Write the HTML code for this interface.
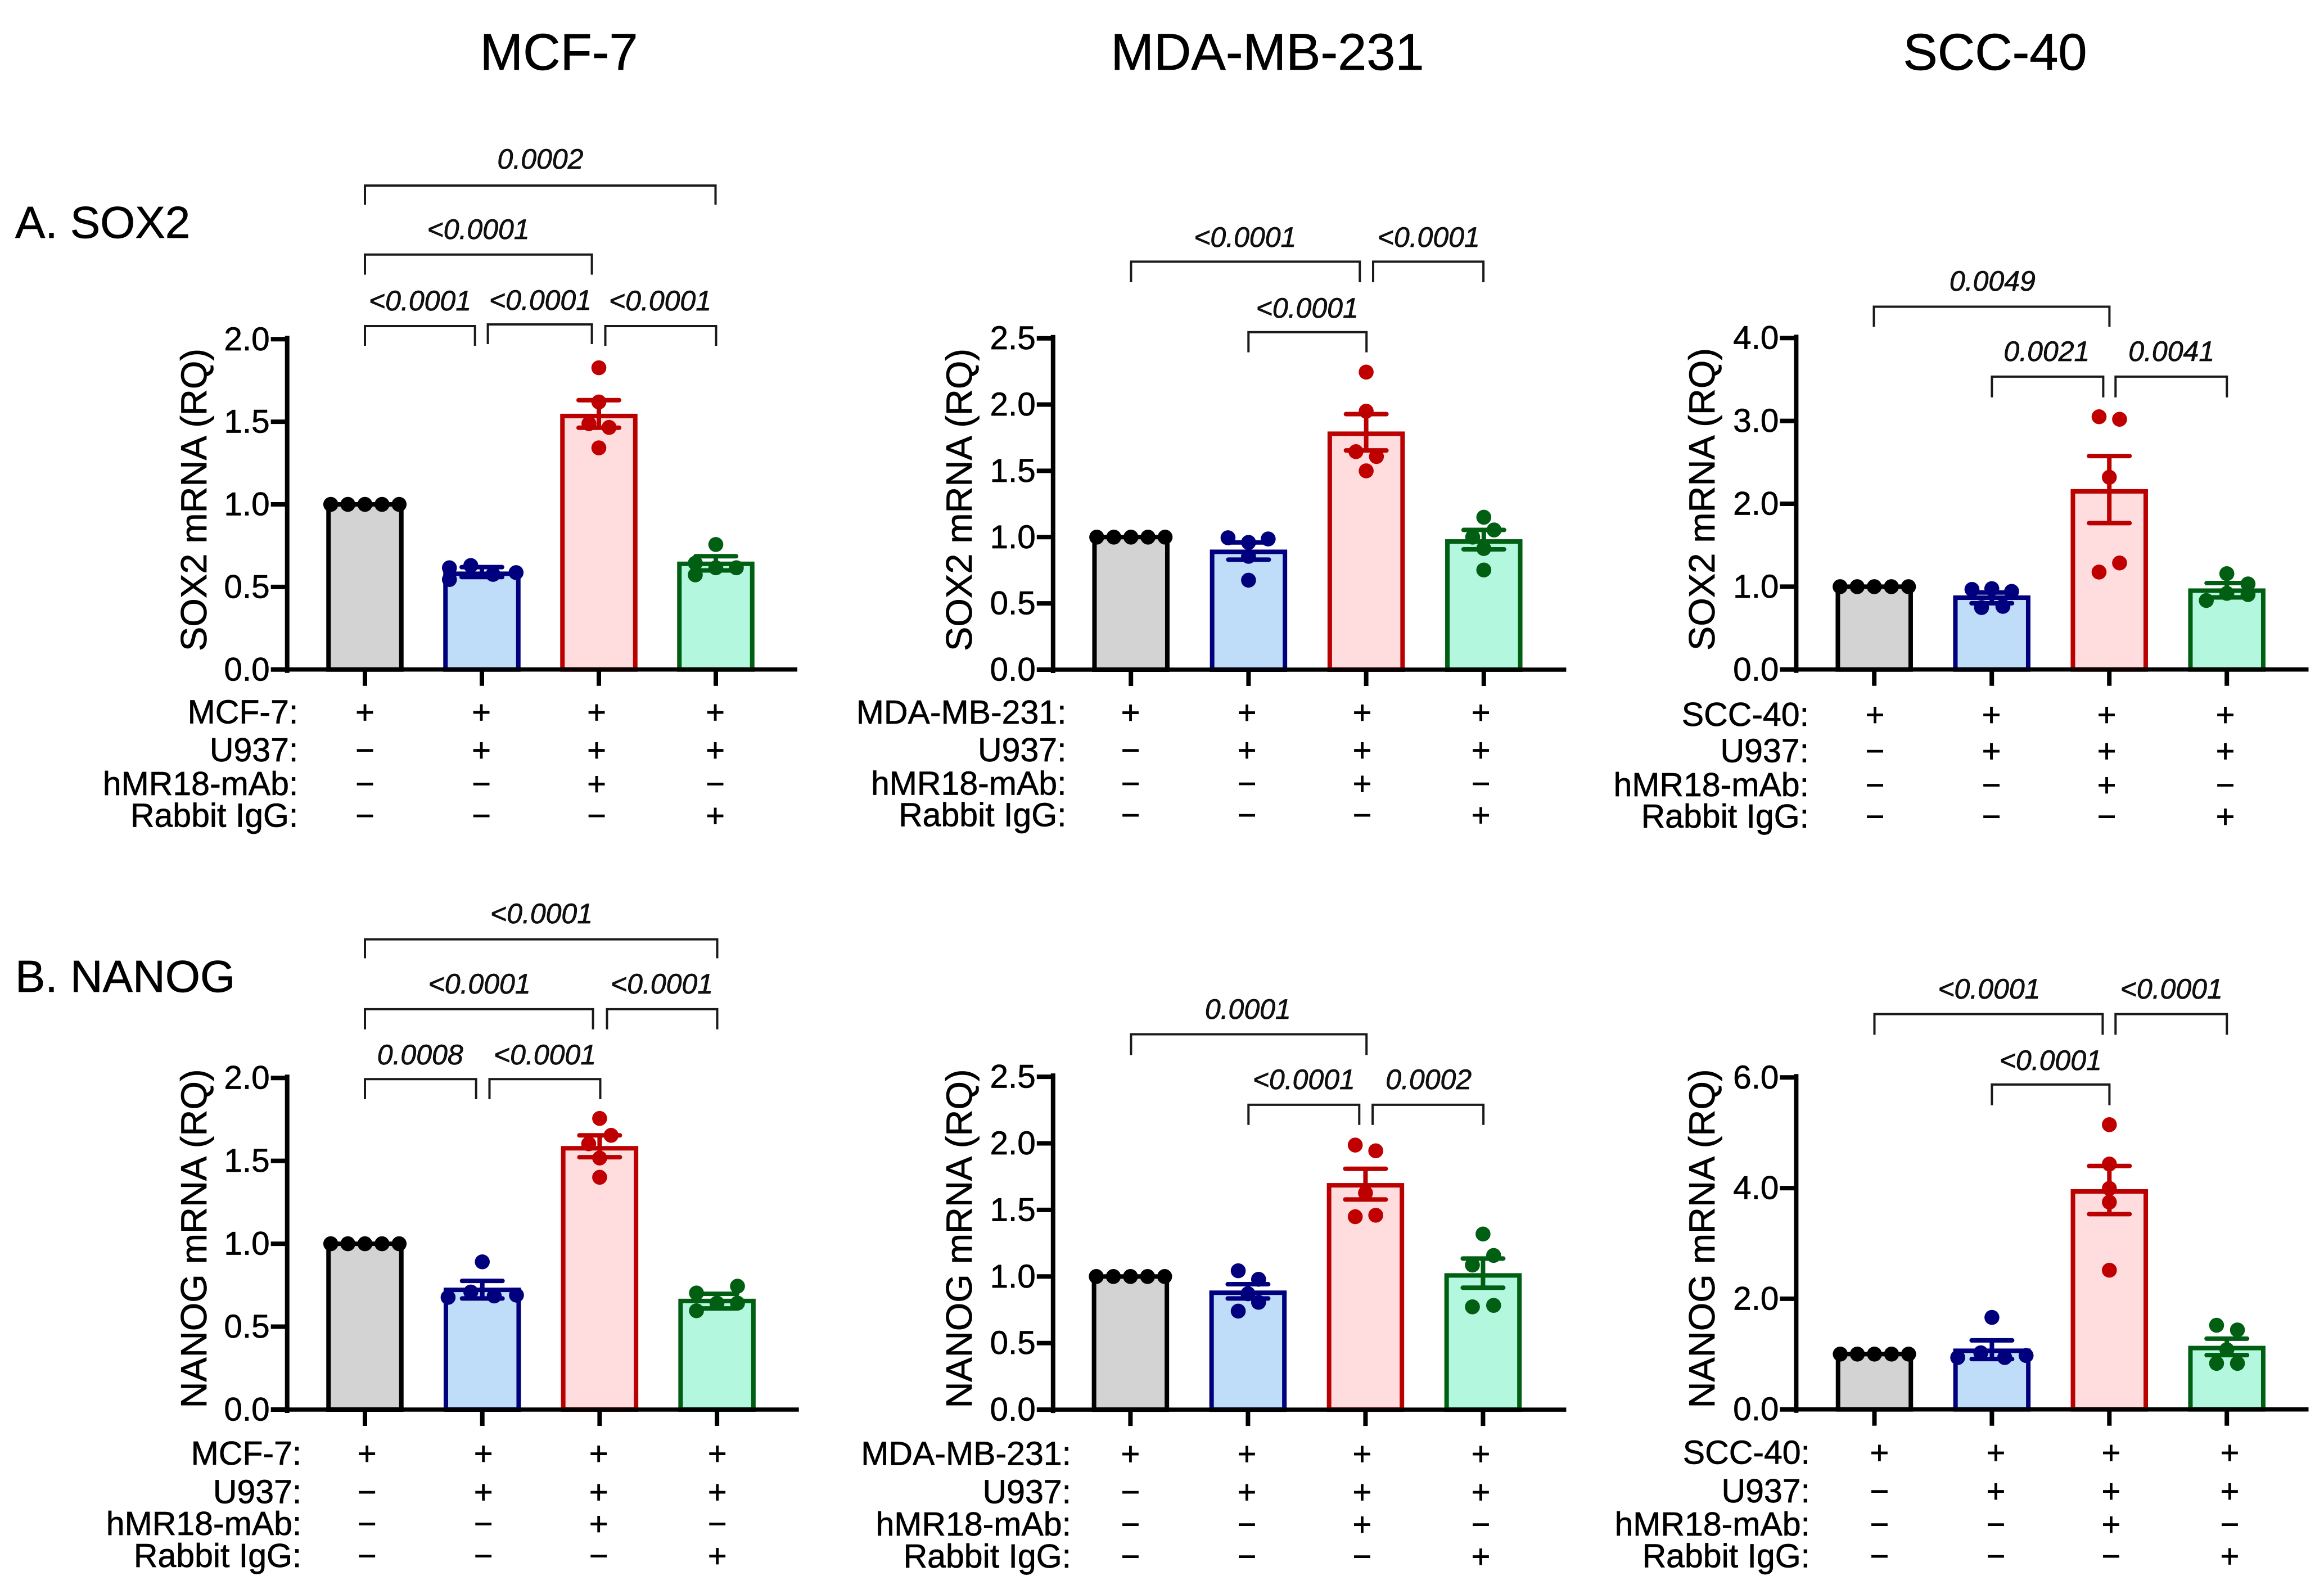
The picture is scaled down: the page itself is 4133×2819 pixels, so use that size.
<!DOCTYPE html>
<html lang="en">
<head>
<meta charset="utf-8">
<title>SOX2 and NANOG mRNA expression</title>
<style>
html,body{margin:0;padding:0;background:#fff;}
svg{display:block;font-family:"Liberation Sans",sans-serif;fill:#000;}
svg text{stroke:#000;stroke-width:.7px;}
.col-title{font-size:92px;text-anchor:middle;}
.panel-label{font-size:80px;}
.y-title{font-size:65px;text-anchor:middle;}
.pv{font-size:50px;font-style:italic;text-anchor:middle;fill:#111;}
.bk{fill:none;stroke:#1a1a1a;stroke-width:4;}
</style>
</head>
<body>
<svg id="figure" xmlns="http://www.w3.org/2000/svg" width="4133" height="2819" viewBox="0 0 4133 2819">
<rect x="0" y="0" width="4133" height="2819" fill="#fff"/>

<text class="col-title" x="994" y="124">MCF-7</text>
<text class="col-title" x="2254" y="124">MDA-MB-231</text>
<text class="col-title" x="3548" y="124">SCC-40</text>
<text class="panel-label" x="27" y="423">A. SOX2</text>
<text class="panel-label" x="27" y="1764">B. NANOG</text>

<text class="y-title" x="367" y="889" transform="rotate(-90 367 889)">SOX2 mRNA (RQ)</text>
<text class="y-title" x="1728" y="889" transform="rotate(-90 1728 889)">SOX2 mRNA (RQ)</text>
<text class="y-title" x="3049" y="888" transform="rotate(-90 3049 888)">SOX2 mRNA (RQ)</text>
<text class="y-title" x="367" y="2203" transform="rotate(-90 367 2203)">NANOG mRNA (RQ)</text>
<text class="y-title" x="1728" y="2203" transform="rotate(-90 1728 2203)">NANOG mRNA (RQ)</text>
<text class="y-title" x="3049" y="2203" transform="rotate(-90 3049 2203)">NANOG mRNA (RQ)</text>

<g>
<path class="bk" d="M649 364V330H1272.5V364"/><text class="pv" x="961" y="300">0.0002</text>
<path class="bk" d="M649 488.5V452.7H1052.6V488.5"/><text class="pv" x="850.6" y="425">&lt;0.0001</text>
<path class="bk" d="M649 615V580H844.7V615"/><text class="pv" x="747" y="552">&lt;0.0001</text>
<path class="bk" d="M867.6 612V577H1052.6V612"/><text class="pv" x="961" y="551">&lt;0.0001</text>
<path class="bk" d="M1076.5 615V580H1273.5V615"/><text class="pv" x="1174" y="552">&lt;0.0001</text>
</g>
<g>
<path class="bk" d="M2011.4 502V465.4H2418.3V502"/><text class="pv" x="2214.3" y="439">&lt;0.0001</text>
<path class="bk" d="M2442 502V465.4H2638.1V502"/><text class="pv" x="2540.7" y="439">&lt;0.0001</text>
<path class="bk" d="M2220.3 626.6V590.8H2430.2V626.6"/><text class="pv" x="2324.7" y="565">&lt;0.0001</text>
</g>
<g>
<path class="bk" d="M3332.5 581.3V545.5H3751.4V581.3"/><text class="pv" x="3543.4" y="517">0.0049</text>
<path class="bk" d="M3542.4 706.7V669.9H3740.4V706.7"/><text class="pv" x="3639.9" y="642">0.0021</text>
<path class="bk" d="M3762.3 706.7V669.9H3960.3V706.7"/><text class="pv" x="3861.7" y="642">0.0041</text>
</g>
<g>
<path class="bk" d="M649 1704.4V1670.6H1275.5V1704.4"/><text class="pv" x="963" y="1642">&lt;0.0001</text>
<path class="bk" d="M649 1830.7V1794.9H1054.6V1830.7"/><text class="pv" x="852.6" y="1767">&lt;0.0001</text>
<path class="bk" d="M1079.5 1830.7V1794.9H1275.5V1830.7"/><text class="pv" x="1177" y="1767">&lt;0.0001</text>
<path class="bk" d="M649 1955V1919.2H846.7V1955"/><text class="pv" x="747.2" y="1893">0.0008</text>
<path class="bk" d="M870.5 1955V1919.2H1067.5V1955"/><text class="pv" x="969" y="1893">&lt;0.0001</text>
</g>
<g>
<path class="bk" d="M2011.4 1876.4V1839.5H2430.2V1876.4"/><text class="pv" x="2219.3" y="1812">0.0001</text>
<path class="bk" d="M2220.3 2000.7V1964.9H2417.3V2000.7"/><text class="pv" x="2318.8" y="1937">&lt;0.0001</text>
<path class="bk" d="M2441.1 2000.7V1964.9H2638.1V2000.7"/><text class="pv" x="2540.7" y="1937">0.0002</text>
</g>
<g>
<path class="bk" d="M3333.5 1840.4V1803.6H3739.4V1840.4"/><text class="pv" x="3537.4" y="1776">&lt;0.0001</text>
<path class="bk" d="M3762.3 1840.4V1803.6H3960.3V1840.4"/><text class="pv" x="3861.7" y="1776">&lt;0.0001</text>
<path class="bk" d="M3542.4 1965.7V1928.9H3751.4V1965.7"/><text class="pv" x="3646.8" y="1903">&lt;0.0001</text>
</g>
</svg>

<script>
// ---- Data: values ----
const treatmentSigns = [
  ['+','+','+','+'],
  ['−','+','+','+'],
  ['−','−','+','−'],
  ['−','−','−','+']
];
const treatmentNames = ['U937:','hMR18-mAb:','Rabbit IgG:'];

const a1Ticks = ['0.0','0.5','1.0','1.5','2.0'];
const a1Means = [1, 0.58, 1.535, 0.64];
const a1Upper = [1, 0.62, 1.631, 0.686];
const a1Lower = [1, 0.56, 1.464, 0.60];
const a1Points = [[1,1,1,1,1],[0.616,0.545,0.63,0.576,0.587],[1.827,1.62,1.489,1.466,1.342],[0.757,0.644,0.573,0.616,0.616]];
const a1Jitter = [[-2,-1,0,1,2],[-1.9,-1.9,-0.65,0.65,2],[0,0,-0.58,0.6,0],[0,-1.2,-1.2,0,1.2]];

const a2Ticks = ['0.0','0.5','1.0','1.5','2.0','2.5'];
const a2Means = [1, 0.889, 1.78, 0.967];
const a2Upper = [1, 0.96, 1.928, 1.054];
const a2Lower = [1, 0.83, 1.654, 0.908];
const a2Points = [[1,1,1,1,1],[0.995,0.986,0.96,0.855,0.675],[2.245,1.95,1.645,1.608,1.5],[1.15,1.054,1.0,0.914,0.752]];
const a2Jitter = [[-2,-1,0,1,2],[-1.2,1.15,0,0,0],[0,0,-0.6,0.6,0],[0,0.6,-0.65,0,0]];

const a3Ticks = ['0.0','1.0','2.0','3.0','4.0'];
const a3Means = [1, 0.867, 2.15, 0.952];
const a3Upper = [1, 0.93, 2.576, 1.043];
const a3Lower = [1, 0.80, 1.767, 0.87];
const a3Points = [[1,1,1,1,1],[0.967,0.976,0.943,0.748,0.762],[3.05,3.02,2.32,1.286,1.176],[1.157,1.033,0.919,0.905,0.833]];
const a3Jitter = [[-2,-1,0,1,2],[-1.16,0,1.16,-0.6,0.65],[-0.6,0.6,0,0.6,-0.6],[0,1.24,0,1.24,-1.2]];

const b1Ticks = ['0.0','0.5','1.0','1.5','2.0'];
const b1Means = [1, 0.722, 1.576, 0.655];
const b1Upper = [1, 0.776, 1.654, 0.698];
const b1Lower = [1, 0.67, 1.522, 0.61];
const b1Points = [[1,1,1,1,1],[0.891,0.677,0.709,0.685,0.69],[1.756,1.654,1.603,1.517,1.401],[0.744,0.703,0.642,0.642,0.596]];
const b1Jitter = [[-2,-1,0,1,2],[0,-2,-0.67,0.7,2],[0,0.67,-0.64,0,0],[1.2,-1.2,0,1.2,-1.2]];

const b2Ticks = ['0.0','0.5','1.0','1.5','2.0','2.5'];
const b2Means = [1, 0.878, 1.685, 1.008];
const b2Upper = [1, 0.942, 1.809, 1.135];
const b2Lower = [1, 0.835, 1.578, 0.916];
const b2Points = [[1,1,1,1,1],[1.043,0.979,0.87,0.806,0.74],[1.987,1.944,1.627,1.449,1.46],[1.319,1.158,1.086,0.772,0.783]];
const b2Jitter = [[-2,-1,0,1,2],[-0.57,0.62,0,0.62,-0.57],[-0.6,0.6,0,-0.6,0.6],[0,0.62,-0.62,-0.62,0.62]];

const b3Ticks = ['0.0','2.0','4.0','6.0'];
const b3Means = [1, 1.06, 3.94, 1.109];
const b3Upper = [1, 1.248, 4.4, 1.279];
const b3Lower = [1, 0.91, 3.53, 0.981];
const b3Points = [[1,1,1,1,1],[1.663,1.023,0.938,0.938,0.974],[5.146,4.435,3.994,3.746,2.516],[1.521,1.436,1.08,0.832,0.832]];
const b3Jitter = [[-2,-1,0,1,2],[0,-0.65,0.75,-2,2],[0,0,0,0,0],[-0.6,0.62,0,-0.6,0.62]];

// ---- Layout (not data) ----
const barFill = ['#d3d3d3','#bfdcf8','#ffdddf','#b4f7df'];
const barEdge = ['#000000','#00007e','#bb0000','#005f12'];
const dotFill = ['#000000','#00007e','#c00000','#005f12'];
const signShift = [0, 207, 412, 623];
const NS = 'http://www.w3.org/2000/svg';
const fig = document.getElementById('figure');

function mk(parent, tag, attrs, text) {
  const el = document.createElementNS(NS, tag);
  for (const k in attrs) el.setAttribute(k, attrs[k]);
  if (text !== undefined) el.textContent = text;
  parent.appendChild(el);
  return el;
}

function drawPanel(p) {
  const g = mk(fig, 'g', {});
  
  
  const maxV = parseFloat(p.ticks[p.ticks.length - 1]);
  const yScale = v => p.y0 - (v / maxV) * (p.y0 - p.top);
  const xScale = i => p.x0 + i * p.step;
  const stroke = 8;
  const barW = 137.5;

  p.means.forEach((m, i) => {
    const w = barW - stroke;
    const bar = mk(g, 'rect', {x: xScale(i) - w / 2, y: yScale(m), width: w, height: p.y0 - yScale(m),
      fill: barFill[i], stroke: barEdge[i], 'stroke-width': stroke});
    
    
  });

  p.points.forEach((vals, i) => {
    vals.forEach((v, j) => {
      const dot = mk(g, 'circle', {cx: xScale(i) + p.jitter[i][j] * 30.4, cy: yScale(v), r: 13.3, fill: dotFill[i]});
      
      
    });
  });

  p.means.forEach((m, i) => {
    if (p.upper[i] === p.lower[i]) return;
    const cx = xScale(i), hi = yScale(p.upper[i]), lo = yScale(p.lower[i]);
    const err = mk(g, 'path', {d: 'M' + (cx - 36) + ' ' + hi + 'H' + (cx + 36) + 'M' + cx + ' ' + hi + 'V' + lo + 'M' + (cx - 36) + ' ' + lo + 'H' + (cx + 36),
      fill: 'none', stroke: barEdge[i], 'stroke-width': 8, 'stroke-linecap': 'round'});
    
    
  });

  const yAxis = mk(g, 'line', {x1: p.ax, x2: p.ax, y1: p.top - 6, y2: p.y0 + 6, stroke: '#000', 'stroke-width': 8});
  
  
  const xAxis = mk(g, 'line', {x1: p.ax - 4, x2: p.right, y1: p.y0, y2: p.y0, stroke: '#000', 'stroke-width': 7.5});
  
  

  p.ticks.forEach(t => {
    const y = yScale(parseFloat(t));
    const tick = mk(g, 'line', {x1: p.ax - 29, x2: p.ax, y1: y, y2: y, stroke: '#000', 'stroke-width': 8});
    
    
    const lab = mk(g, 'text', {x: p.ax - 31, y: y + 19.5, 'text-anchor': 'end', 'font-size': 58.5}, t);
    
    
  });

  p.means.forEach((m, i) => {
    const tick = mk(g, 'line', {x1: xScale(i), x2: xScale(i), y1: p.y0, y2: p.y0 + 29, stroke: '#000', 'stroke-width': 8});
    
    
  });

  [p.cell].concat(treatmentNames).forEach((name, r) => {
    const lab = mk(g, 'text', {x: p.labelRight, y: p.rows[r] + 20, 'text-anchor': 'end', 'font-size': 59}, name);
    
    
    treatmentSigns[r].forEach((s, c) => {
      const sign = mk(g, 'text', {x: p.signX + signShift[c], y: p.rows[r] + 20, 'text-anchor': 'middle', 'font-size': 58, 'stroke-width': 1.5}, s);
      
      
    });
  });
}

drawPanel({id:'a1', cell:'MCF-7:', ticks:a1Ticks, means:a1Means, upper:a1Upper, lower:a1Lower, points:a1Points, jitter:a1Jitter,
  ax:510.7, right:1418, y0:1190.8, top:603.3, x0:649, step:208, labelRight:530.3, signX:649, rows:[1266.5,1334,1394,1450.6]});
drawPanel({id:'a2', cell:'MDA-MB-231:', ticks:a2Ticks, means:a2Means, upper:a2Upper, lower:a2Lower, points:a2Points, jitter:a2Jitter,
  ax:1872.8, right:2785.4, y0:1191, top:601.7, x0:2011.2, step:209.2, labelRight:1896.5, signX:2010.5, rows:[1267,1334,1393.6,1449.4]});
drawPanel({id:'a3', cell:'SCC-40:', ticks:a3Ticks, means:a3Means, upper:a3Upper, lower:a3Lower, points:a3Points, jitter:a3Jitter,
  ax:3194.4, right:4105.5, y0:1190.8, top:601.2, x0:3333.2, step:209, labelRight:3217, signX:3334.5, rows:[1270.8,1335.5,1396.1,1451.9]});
drawPanel({id:'b1', cell:'MCF-7:', ticks:b1Ticks, means:b1Means, upper:b1Upper, lower:b1Lower, points:b1Points, jitter:b1Jitter,
  ax:510.7, right:1420.7, y0:2507, top:1917.2, x0:649, step:208.7, labelRight:536.3, signX:652.7, rows:[2584.9,2653.5,2710.2,2766.9]});
drawPanel({id:'b2', cell:'MDA-MB-231:', ticks:b2Ticks, means:b2Means, upper:b2Upper, lower:b2Lower, points:b2Points, jitter:b2Jitter,
  ax:1872.8, right:2785.4, y0:2507.1, top:1915.1, x0:2010.4, step:209, labelRight:1905, signX:2010.4, rows:[2585.7,2653.4,2711.1,2767.8]});
drawPanel({id:'b3', cell:'SCC-40:', ticks:b3Ticks, means:b3Means, upper:b3Upper, lower:b3Lower, points:b3Points, jitter:b3Jitter,
  ax:3194.4, right:4105.5, y0:2506.7, top:1916.3, x0:3333.5, step:208.9, labelRight:3219, signX:3342.4, rows:[2583.6,2652.2,2711,2767.7]});
</script>
</body>
</html>
